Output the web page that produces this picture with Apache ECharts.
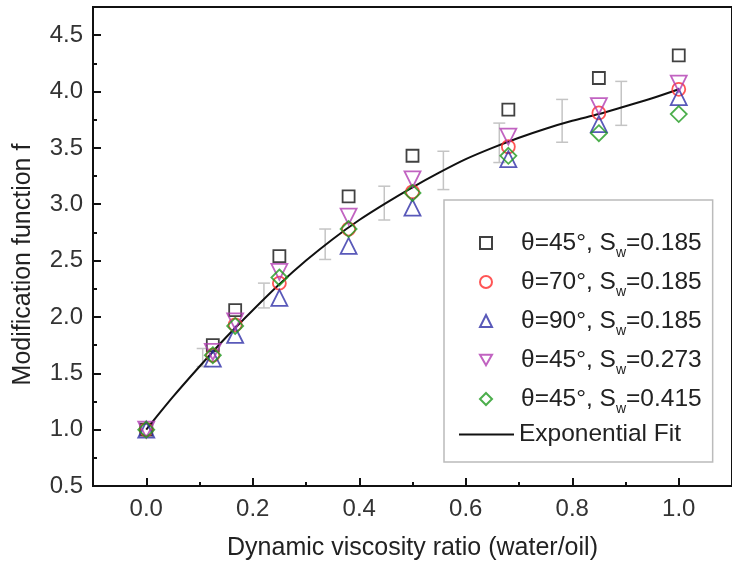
<!DOCTYPE html>
<html>
<head>
<meta charset="utf-8">
<script src="https://cdn.jsdelivr.net/npm/echarts@6/dist/echarts.min.js"></script>
<style>html,body{margin:0;padding:0;background:#fff;}#c{width:732px;height:566px;}</style>
</head>
<body>
<div id="c"></div>
<script>
// ---- data ----
const xRatio = [0, 0.125, 0.167, 0.25, 0.38, 0.5, 0.68, 0.85, 1.0];
const s45_185 = [1.00, 1.75, 2.06, 2.54, 3.07, 3.43, 3.84, 4.12, 4.32];
const s70_185 = [1.00, 1.66, 1.93, 2.30, 2.78, 3.11, 3.51, 3.81, 4.02];
const s90_185 = [1.00, 1.63, 1.84, 2.17, 2.63, 2.97, 3.40, 3.71, 3.95];
const s45_273 = [1.00, 1.69, 1.96, 2.40, 2.89, 3.22, 3.60, 3.87, 4.07];
const s45_415 = [1.00, 1.66, 1.92, 2.35, 2.78, 3.10, 3.43, 3.63, 3.80];
const fitX = [0, 0.05, 0.1, 0.15, 0.2, 0.25, 0.3, 0.35, 0.4, 0.45, 0.5, 0.55, 0.6, 0.65, 0.7, 0.75, 0.8, 0.85, 0.9, 0.95, 1.0];
const fitY = [1.00, 1.29, 1.56, 1.82, 2.06, 2.29, 2.50, 2.69, 2.86, 3.01, 3.15, 3.28, 3.40, 3.50, 3.59, 3.67, 3.74, 3.80, 3.87, 3.94, 4.02];
const errX = [0.106, 0.221, 0.336, 0.447, 0.558, 0.663, 0.781, 0.892];
const errLow = [1.56, 2.08, 2.51, 2.86, 3.13, 3.37, 3.55, 3.70];
const errHigh = [1.72, 2.30, 2.78, 3.16, 3.47, 3.72, 3.93, 4.09];
const xMajorTicks = [0, 0.2, 0.4, 0.6, 0.8, 1.0];
const xMinorTicks = [0.1, 0.3, 0.5, 0.7, 0.9];
const yMajorTicks = [0.5, 1.0, 1.5, 2.0, 2.5, 3.0, 3.5, 4.0, 4.5];
const yMinorTicks = [0.75, 1.25, 1.75, 2.25, 2.75, 3.25, 3.75, 4.25];
const seriesNames = ['θ=45°, Sw=0.185', 'θ=70°, Sw=0.185', 'θ=90°, Sw=0.185', 'θ=45°, Sw=0.273', 'θ=45°, Sw=0.415'];
const fitName = 'Exponential Fit';
const xTitle = 'Dynamic viscosity ratio (water/oil)';
const yTitle = 'Modification function f';

// ---- chart ----
const FONT = '"Liberation Sans", Arial, Helvetica, sans-serif';
const chart = echarts.init(document.getElementById('c'), null, {renderer: 'canvas'});
const pair = (xs, ys) => xs.map((x, i) => [x, ys[i]]);
const DOWN_TRI = 'path://M0,0L20,0L10,17.3Z';
const markerDefs = [
  {vals: s45_185, symbol: 'rect', icon: 'rect', size: 12, rot: 0, color: '#111111'},
  {vals: s70_185, symbol: 'circle', icon: 'circle', size: 13, rot: 0, color: '#ff2a2a'},
  {vals: s90_185, symbol: 'triangle', icon: 'triangle', size: 16, rot: 0, color: '#2f2fa8'},
  {vals: s45_273, symbol: 'triangle', icon: DOWN_TRI, size: 16, rot: 180, color: '#b23cb2'},
  {vals: s45_415, symbol: 'diamond', icon: 'diamond', size: 16, rot: 0, color: '#1f9a1f'}
];
const scatterSeries = markerDefs.map((d, i) => ({
  name: seriesNames[i], type: 'scatter', data: pair(xRatio, d.vals),
  symbol: d.symbol, symbolSize: d.size, symbolRotate: d.rot,
  itemStyle: {color: 'rgba(255,255,255,0)', borderColor: d.color, borderWidth: 1.8},
  emphasis: {disabled: true}, z: 3
}));
const axisCommon = {type: 'value', splitLine: {show: false}};
const LEG_FS = 24.5;
const legendRich = {
  b: {fontSize: LEG_FS, color: '#222', fontFamily: FONT, lineHeight: 34, padding: [0, 0, 0, 24]},
  a: {fontSize: LEG_FS, color: '#222', fontFamily: FONT, lineHeight: 34},
  s: {fontSize: 14, color: '#222', fontFamily: FONT, lineHeight: 14, padding: [20, 0, 0, 0]}
};
chart.setOption({
  animation: false,
  backgroundColor: '#ffffff',
  textStyle: {fontFamily: FONT},
  grid: {left: 93, top: 7, width: 647, height: 480, show: true, borderColor: '#111', borderWidth: 2, backgroundColor: 'transparent'},
  xAxis: [
    Object.assign({}, axisCommon, {
      min: -0.1, max: 1.1, position: 'bottom',
      name: xTitle, nameLocation: 'middle', nameGap: 50,
      nameTextStyle: {fontSize: 25, color: '#222', fontFamily: FONT},
      axisLine: {show: true, onZero: false, lineStyle: {color: '#111', width: 2}},
      axisTick: {show: true, inside: true, length: 8, customValues: xMajorTicks, lineStyle: {color: '#111', width: 2}},
      axisLabel: {customValues: xMajorTicks, formatter: v => v.toFixed(1), fontSize: 24, color: '#333', margin: 11, fontFamily: FONT}
    }),
    Object.assign({}, axisCommon, {
      min: -0.1, max: 1.1, position: 'bottom',
      axisLine: {show: false, onZero: false},
      axisTick: {show: true, inside: true, length: 4, customValues: xMinorTicks, lineStyle: {color: '#111', width: 2}},
      axisLabel: {show: false}
    })
  ],
  yAxis: [
    Object.assign({}, axisCommon, {
      min: 0.5, max: 4.75, position: 'left',
      name: yTitle, nameLocation: 'middle', nameGap: 57, nameRotate: 90,
      nameTextStyle: {fontSize: 25, color: '#222', fontFamily: FONT, padding: [0, 36, 0, 0]},
      axisLine: {show: true, onZero: false, lineStyle: {color: '#111', width: 2}},
      axisTick: {show: true, inside: true, length: 8, customValues: yMajorTicks, lineStyle: {color: '#111', width: 2}},
      axisLabel: {customValues: yMajorTicks, formatter: v => v.toFixed(1), fontSize: 24, color: '#333', margin: 10, fontFamily: FONT}
    }),
    Object.assign({}, axisCommon, {
      min: 0.5, max: 4.75, position: 'left',
      axisLine: {show: false, onZero: false},
      axisTick: {show: true, inside: true, length: 4, customValues: yMinorTicks, lineStyle: {color: '#111', width: 2}},
      axisLabel: {show: false}
    })
  ],
  legend: [
    {
      orient: 'vertical', left: 444, top: 200, z: 3,
      data: seriesNames.map((n, i) => ({name: n, icon: markerDefs[i].icon})),
      itemWidth: 12, itemHeight: 12, itemGap: 5,
      padding: [26, 11, 46, 35],
      backgroundColor: '#fff', borderColor: '#bbbbbb', borderWidth: 1.5,
      selectedMode: false,
      formatter: n => {
        const k = n.indexOf('Sw');
        return '{b|' + n.slice(0, k) + 'S}{s|w}{a|' + n.slice(k + 2) + '}';
      },
      textStyle: {fontFamily: FONT, fontSize: LEG_FS, color: '#222', rich: legendRich}
    },
    {
      orient: 'vertical', left: 459, top: 422, z: 4,
      data: [{name: fitName, icon: 'rect'}],
      itemWidth: 55, itemHeight: 2, padding: 0,
      selectedMode: false,
      formatter: n => '{a|' + n + '}',
      textStyle: {fontFamily: FONT, fontSize: LEG_FS, color: '#222', rich: legendRich}
    }
  ],
  series: [
    {
      name: 'err', type: 'custom', z: 1,
      data: errX.map((x, i) => [x, errLow[i], errHigh[i]]),
      renderItem: (params, api) => {
        const lo = api.coord([api.value(0), api.value(1)]);
        const hi = api.coord([api.value(0), api.value(2)]);
        const w = 6;
        const st = {stroke: '#c4c4c4', lineWidth: 1.5};
        return {type: 'group', children: [
          {type: 'line', shape: {x1: lo[0], y1: lo[1], x2: hi[0], y2: hi[1]}, style: st},
          {type: 'line', shape: {x1: lo[0] - w, y1: lo[1], x2: lo[0] + w, y2: lo[1]}, style: st},
          {type: 'line', shape: {x1: hi[0] - w, y1: hi[1], x2: hi[0] + w, y2: hi[1]}, style: st}
        ]};
      },
      silent: true
    },
    {
      name: fitName, type: 'line', data: pair(fitX, fitY), smooth: 0.3,
      showSymbol: false, symbol: 'none',
      lineStyle: {color: '#111', width: 2}, itemStyle: {color: '#111'}, z: 2,
      emphasis: {disabled: true}
    }
  ].concat(scatterSeries)
});
</script>
</body>
</html>
